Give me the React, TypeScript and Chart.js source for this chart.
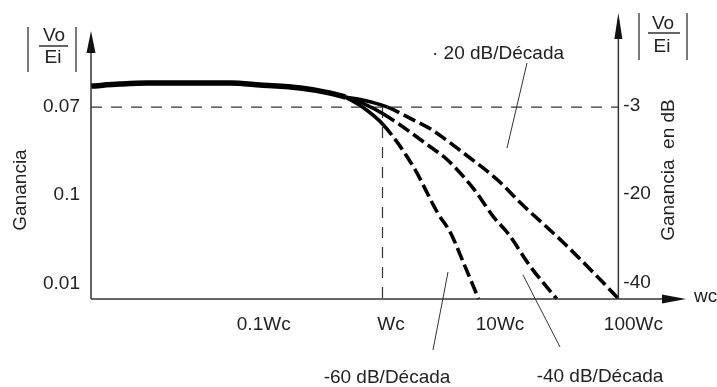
import React, { useEffect, useRef } from 'react';
import { Chart, registerables } from 'chart.js';

Chart.register(...registerables);

// ---- axis ranges (x in decades relative to Wc, y in dB, schematic) ----
const X_MIN = -2.405;
const X_MAX = 2.504;
const Y_MIN = -43.6;
const Y_MAX = 16.9;
const cutoffDecade = 0;
const cutoffDb = -3;
const rightAxisDecade = 1.946;

// ---- tick labels ----
const xTickPos = [-0.98, 0.07, 0.97, 2.07];
const xTickLabels = ['0.1Wc', 'Wc', '10Wc', '100Wc'];
const yTickPos = [-3, -21.5, -40.4];
const leftTickLabels = ['0.07', '0.1', '0.01'];
const rightTickLabels = ['-3', '-20', '-40'];

// ---- common pass-band trunk ----
const trunkX = [-2.405, -2.165, -1.942, -1.256, -1.008, -0.678, -0.43, -0.306];
const trunkY = [1.44, 1.86, 2.07, 2.07, 1.65, 1.02, -0.04, -0.89];

// ---- roll-off branches ----
const slope20X = [-0.306, -0.165, 0.041, 0.256, 0.397, 0.669, 0.95, 1.14, 1.496, 1.719, 1.946];
const slope20Y = [-0.89, -1.5, -3.0, -5.75, -7.65, -12.73, -18.43, -23.3, -31.75, -37.46, -43.5];
const slope40X = [-0.306, -0.165, 0.008, 0.397, 0.537, 0.752, 0.917, 1.033, 1.223, 1.438];
const slope40Y = [-0.89, -2.15, -4.48, -11.46, -14.2, -20.3, -26.26, -29.64, -36.83, -43.59];
const slope60X = [-0.306, -0.165, 0.008, 0.256, 0.455, 0.562, 0.669, 0.793];
const slope60Y = [-0.89, -3.0, -6.8, -15.68, -25.4, -29.64, -35.98, -43.59];

const FONT = '"Liberation Sans", Arial, sans-serif';
const TEXT = '#222';
const LINE = '#333';

const pts = (xs: number[], ys: number[]) => xs.map((x, i) => ({ x, y: ys[i] }));

const decorations = {
  id: 'decorations',
  afterDraw(chart: any) {
    const { ctx, chartArea, scales } = chart;
    const xs = scales.x;
    const ys = scales.y;
    const L = chartArea.left;
    const B = chartArea.bottom;
    const R = xs.getPixelForValue(rightAxisDecade);
    ctx.save();
    ctx.strokeStyle = LINE;
    ctx.fillStyle = '#111';
    ctx.lineWidth = 1.5;
    ctx.setLineDash([]);
    // left axis + arrow
    ctx.beginPath();
    ctx.moveTo(L, 40);
    ctx.lineTo(L, B);
    ctx.stroke();
    ctx.beginPath();
    ctx.moveTo(L, 31);
    ctx.lineTo(L + 4.5, 53);
    ctx.lineTo(L - 4.5, 53);
    ctx.closePath();
    ctx.fill();
    // right axis + arrow
    ctx.beginPath();
    ctx.moveTo(R, 20);
    ctx.lineTo(R, B);
    ctx.stroke();
    ctx.beginPath();
    ctx.moveTo(R, 13);
    ctx.lineTo(R + 4, 39);
    ctx.lineTo(R - 4, 39);
    ctx.closePath();
    ctx.fill();
    // x axis + arrow
    ctx.beginPath();
    ctx.moveTo(L, B);
    ctx.lineTo(665, B);
    ctx.stroke();
    ctx.beginPath();
    ctx.moveTo(686, B);
    ctx.lineTo(662, B - 4.5);
    ctx.lineTo(662, B + 4.5);
    ctx.closePath();
    ctx.fill();

    ctx.fillStyle = TEXT;
    ctx.font = `19px ${FONT}`;
    // wc
    ctx.textAlign = 'left';
    ctx.textBaseline = 'middle';
    ctx.fillText('wc', 694, B - 2);
    // right tick labels
    yTickPos.forEach((v, i) => {
      ctx.fillText(rightTickLabels[i], R + 5, ys.getPixelForValue(v) - 1);
    });

    // |Vo/Ei| left and right
    const frac = (cx: number, topBar: number, botBar: number, barL: number, barR: number, yVo: number, yLine: number, yEi: number, lx0: number, lx1: number) => {
      ctx.strokeStyle = LINE;
      ctx.lineWidth = 1.3;
      ctx.beginPath();
      ctx.moveTo(barL, topBar);
      ctx.lineTo(barL, botBar);
      ctx.moveTo(barR, topBar);
      ctx.lineTo(barR, botBar);
      ctx.moveTo(lx0, yLine);
      ctx.lineTo(lx1, yLine);
      ctx.stroke();
      ctx.textAlign = 'center';
      ctx.fillText('Vo', cx, yVo);
      ctx.fillText('Ei', cx - 1, yEi);
    };
    frac(54, 27, 72, 28, 76, 36, 46, 58, 39, 68);
    frac(663, 13, 60, 639, 687, 24, 33, 47, 648, 680);

    // rotated axis titles
    ctx.save();
    ctx.translate(21, 190);
    ctx.rotate(-Math.PI / 2);
    ctx.textAlign = 'center';
    ctx.fillText('Ganancia', 0, 0);
    ctx.restore();
    ctx.save();
    ctx.translate(669, 170);
    ctx.rotate(-Math.PI / 2);
    ctx.textAlign = 'center';
    ctx.fillText('Ganancia  en dB', 0, 0);
    ctx.restore();

    // slope annotations
    ctx.textAlign = 'left';
    ctx.fillText('· 20 dB/Década', 432, 54);
    ctx.textAlign = 'center';
    ctx.fillText('-60 dB/Década', 387, 378);
    ctx.fillText('-40 dB/Década', 600, 377);

    ctx.strokeStyle = LINE;
    ctx.lineWidth = 1;
    ctx.beginPath();
    ctx.moveTo(527, 63);
    ctx.lineTo(507, 148);
    ctx.moveTo(448, 272);
    ctx.lineTo(433, 350);
    ctx.moveTo(523, 275);
    ctx.lineTo(560, 347);
    ctx.stroke();
    ctx.restore();
  },
};

const dashAfterCutoff = (ctx: any) => (ctx.p0.parsed.x >= cutoffDecade - 1e-9 ? [13, 5] : undefined);

export default function App() {
  const ref = useRef<HTMLCanvasElement | null>(null);
  useEffect(() => {
    if (!ref.current) return;
    const branch = (xs: number[], ys: number[]) => ({
      data: pts(xs, ys),
      borderColor: '#000',
      borderWidth: 3.6,
      pointRadius: 0,
      cubicInterpolationMode: 'monotone' as const,
      borderCapStyle: 'butt' as const,
      segment: { borderDash: dashAfterCutoff },
      clip: false as any,
      order: 1,
    });
    const chart = new Chart(ref.current, {
      type: 'line',
      data: {
        datasets: [
          {
            data: [
              { x: X_MIN, y: cutoffDb },
              { x: rightAxisDecade, y: cutoffDb },
            ],
            borderColor: LINE,
            borderWidth: 1.2,
            borderDash: [11, 9],
            pointRadius: 0,
            clip: false as any,
            order: 3,
          },
          {
            data: [
              { x: cutoffDecade, y: cutoffDb },
              { x: cutoffDecade, y: Y_MIN },
            ],
            borderColor: LINE,
            borderWidth: 1.2,
            borderDash: [11, 9],
            pointRadius: 0,
            clip: false as any,
            order: 3,
          },
          {
            data: pts(trunkX, trunkY),
            borderColor: '#000',
            borderWidth: 5.5,
            pointRadius: 0,
            cubicInterpolationMode: 'monotone',
            clip: false as any,
            order: 1,
          },
          branch(slope20X, slope20Y),
          branch(slope40X, slope40Y),
          branch(slope60X, slope60Y),
        ] as any,
      },
      options: {
        responsive: false,
        animation: false,
        layout: { padding: { top: 13, right: 31, left: 0, bottom: 0 } },
        plugins: { legend: { display: false }, tooltip: { enabled: false } },
        scales: {
          x: {
            type: 'linear',
            min: X_MIN,
            max: X_MAX,
            grid: { display: false, drawTicks: false },
            border: { display: false },
            afterBuildTicks: (s: any) => {
              s.ticks = xTickPos.map((v) => ({ value: v }));
            },
            afterFit: (s: any) => {
              s.height = 88;
              s.paddingLeft = 0;
              s.paddingRight = 0;
            },
            ticks: {
              autoSkip: false,
              maxRotation: 0,
              padding: 14,
              color: TEXT,
              font: { family: FONT, size: 19 },
              callback: (_v: any, i: number) => xTickLabels[i],
            },
          },
          y: {
            type: 'linear',
            min: Y_MIN,
            max: Y_MAX,
            grid: { display: false, drawTicks: false },
            border: { display: false },
            afterBuildTicks: (s: any) => {
              s.ticks = yTickPos.map((v) => ({ value: v }));
            },
            afterFit: (s: any) => {
              s.width = 91;
              s.paddingTop = 0;
              s.paddingBottom = 0;
            },
            ticks: {
              autoSkip: false,
              padding: 11,
              color: TEXT,
              font: { family: FONT, size: 19 },
              callback: (_v: any, i: number) => leftTickLabels[i],
            },
          },
        },
      } as any,
      plugins: [decorations],
    });
    return () => chart.destroy();
  }, []);
  return (
    <div style={{ position: 'absolute', left: 0, top: 0, width: 717, height: 387, background: '#fff' }}>
      <canvas ref={ref} width={717} height={387} />
    </div>
  );
}
